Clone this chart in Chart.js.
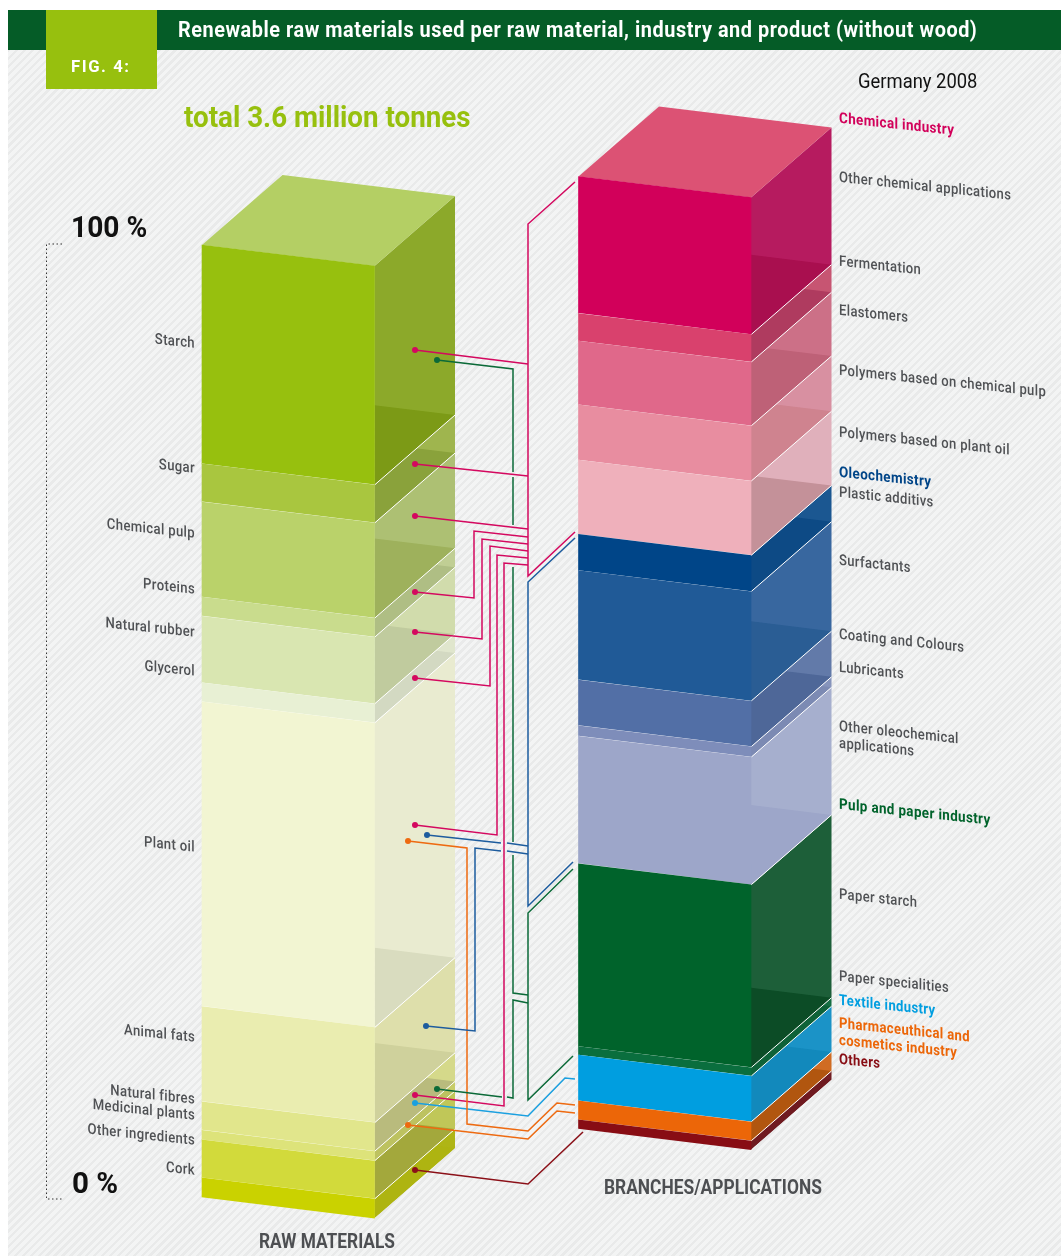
<!DOCTYPE html>
<html>
<head>
<meta charset="utf-8">
<title>Renewable raw materials</title>
<script src="https://cdn.jsdelivr.net/npm/chart.js@4"></script>
<style>
  html, body { margin: 0; padding: 0; background: #fff; }
  #page { position: relative; width: 1061px; height: 1256px; overflow: hidden; }
  #hatch {
    position: absolute; left: 8px; top: 10px; right: 0; bottom: 0;
    background: repeating-linear-gradient(135deg, #e9eaea 0, #e9eaea 2.4px, #f3f4f4 2.4px, #f3f4f4 5.6px);
  }
  #bar { position: absolute; left: 8px; top: 10px; right: 0; height: 40px; background: #055c27; }
  #fig { position: absolute; left: 46px; top: 10px; width: 111px; height: 79px; background: #97c00e; }
  canvas { position: absolute; left: 0; top: 0; }
</style>
</head>
<body>
<div id="page">
  <div id="hatch"></div>
  <div id="bar"></div>
  <div id="fig"></div>
  <canvas id="chart" width="1061" height="1256"></canvas>
</div>
<script>
const categories = ["RAW MATERIALS", "BRANCHES/APPLICATIONS"];

// shares in percent, top of the column first
const rawLabels = ["Starch", "Sugar", "Chemical pulp", "Proteins", "Natural rubber", "Glycerol", "Plant oil",
  "Animal fats", "Natural fibres", "Medicinal plants", "Other ingredients", "Cork"];
const rawValues = [23, 4, 10, 2, 7, 2, 32, 10, 3, 1, 4, 2];

const branchLabels = ["Other chemical applications", "Fermentation", "Elastomers", "Polymers based on chemical pulp",
  "Polymers based on plant oil", "Plastic additivs", "Surfactants", "Coating and Colours", "Lubricants",
  "Other oleochemical|applications", "Paper starch", "Paper specialities", "Textile industry",
  "Pharmaceuthical and|cosmetics industry", "Others"];
const branchValues = [14.4, 2.9, 6.7, 5.8, 7.8, 3.8, 11.5, 4.8, 1.1, 13.4, 19.2, 0.9, 4.8, 2.0, 0.9];

const branchGroups = ["Chemical industry", "Oleochemistry", "Pulp and paper industry"];

// front, side, shaded part of the side
const rawColors = [
  ["#97c00e", "#8aa827", "#7c9a16"], ["#a9c63f", "#9db44b", "#8aa23b"], ["#bad26a", "#acbf71", "#9eb15c"],
  ["#c9dc8d", "#bfcd92", "#afbe84"], ["#d9e6b1", "#d0dbab", "#c0cb9e"], ["#e8f0d4", "#e0e6cc", "#d3d9c2"],
  ["#f2f5d2", "#e9ebcf", "#d9dcbf"], ["#eaedb0", "#dddeaa", "#cfd19c"], ["#e1e68c", "#d4d888", "#b9bb7d"],
  ["#dde37a", "#c6cb66", "#bdc260"], ["#d2da3b", "#bfc655", "#a3a83c"], ["#cad200", "#aeb411", "#aeb411"]
];
const branchColors = [
  ["#d2005a", "#b5175c", "#a90f4f"], ["#d9416d", "#c65270", "#af3b5f"], ["#e0688a", "#cb6e85", "#be6177"],
  ["#e88da0", "#d78e9f", "#cf838f"], ["#efb0bb", "#e0afba", "#c49199"], ["#004588", "#17548f", "#0d4a85"],
  ["#205a97", "#35659d", "#2a5d94"], ["#526fa6", "#6078a8", "#4e6798"], ["#7e8dba", "#8492bb", "#7c8ab3"],
  ["#9da6c9", "#a5aecd", "#9da6c9"], ["#00632b", "#195c36", "#0c4c26"], ["#0a6e3e", "#116c40", "#0e6238"],
  ["#009ee0", "#1791c6", "#1289bc"], ["#ec6608", "#cf6a20", "#b1560f"], ["#880d14", "#6f1a20", "#6f1a20"]
];

const rawLabelY = [344, 469, 534, 590, 633, 672, 848, 1038, 1100, 1116, 1141, 1171];
const branchLabelY = [178, 262, 311, 371, 433, 493, 561, 635, 668, 727, 895, 977, 1001, 1024, 1060];
const branchGroupY = [119, 473, 805];
const groupColors = ["#d2005a", "#004588", "#00632b"];

// leader lines, in page pixels through the leaderX / leaderY scales
const magenta = "#d4085f", green = "#0b6a38", blue = "#1d5c9e", orange = "#ee6a10", cyan = "#1aa0e0", darkRed = "#8b1018";
const leaderRoutes = [
  { color: green, dot: true, path: [[437, 360], [513, 369], [513, 472]] },
  { color: green, path: [[513, 477], [513, 525]] },
  { color: green, path: [[513, 567], [513, 842]] },
  { color: green, path: [[513, 855], [513, 993], [528, 995]] },
  { color: green, path: [[528, 1003], [513, 1000], [513, 1098], [507, 1097]] },
  { color: green, dot: true, path: [[437, 1089], [502, 1097]] },
  { color: green, path: [[573, 869], [528, 913], [528, 1100], [573, 1056]] },
  { color: blue, dot: true, path: [[427, 835], [501, 843]] },
  { color: blue, path: [[507, 843], [528, 846]] },
  { color: blue, dot: true, path: [[426, 1026], [475, 1031], [475, 848], [501, 851]] },
  { color: blue, path: [[507, 851], [528, 854]] },
  { color: blue, path: [[575, 538], [528, 582], [528, 906], [573, 862]] },
  { color: orange, dot: true, path: [[408, 841], [467, 848], [467, 1124], [528, 1131], [557, 1103], [575, 1105]] },
  { color: orange, dot: true, path: [[408, 1125], [528, 1139], [557, 1111], [575, 1113]] },
  { color: cyan, dot: true, path: [[415, 1103], [528, 1116], [565, 1078], [575, 1079]] },
  { color: darkRed, dot: true, path: [[415, 1170], [528, 1184], [583, 1132]] },
  { color: magenta, path: [[575, 182], [528, 224], [528, 576], [575, 532]] },
  { color: magenta, dot: true, path: [[415, 350], [528, 364]] },
  { color: magenta, dot: true, path: [[415, 464], [528, 476]] },
  { color: magenta, dot: true, path: [[415, 516], [528, 529]] },
  { color: magenta, dot: true, path: [[415, 592], [474, 598], [474, 531], [528, 537]] },
  { color: magenta, dot: true, path: [[415, 632], [482, 639], [482, 539], [528, 544]] },
  { color: magenta, dot: true, path: [[415, 678], [490, 686], [490, 546], [528, 551]] },
  { color: magenta, dot: true, path: [[415, 825], [497, 835], [497, 555], [528, 558]] },
  { color: magenta, dot: true, path: [[415, 1095], [504, 1106], [504, 563], [528, 565]] }
];

const slope = 21 / 172;          // fall of the front face per pixel
const depthX = 80.5, depthY = -70; // receding edge of the block
const columnLift = [0, 68.5];    // the right column stands higher on the page
const faceColors = [rawColors, branchColors];
const columnSizes = [rawValues.length, branchValues.length];

function segmentDatasets(labels, values, colors, column) {
  return values.map((v, i) => ({
    label: labels[i],
    data: column === 0 ? [v, null] : [null, v],
    backgroundColor: colors[i][0],
    stack: "s",
    order: 1,
    grouped: false,
    maxBarThickness: 172.5,
    barPercentage: 1,
    categoryPercentage: 1,
    clip: false,
    column: column,
    segment: i
  })).reverse();
}

function leaderDatasets() {
  return leaderRoutes.map((route) => ({
    type: "line",
    data: route.path.map((p) => ({ x: p[0], y: p[1] })),
    xAxisID: "leaderX",
    yAxisID: "leaderY",
    borderColor: route.color,
    backgroundColor: route.color,
    borderWidth: 1.5,
    tension: 0,
    fill: false,
    clip: false,
    order: 0,
    pointRadius: (c) => (route.dot && c.dataIndex === 0 ? 3 : 0),
    pointBorderWidth: 0
  }));
}

function polygon(ctx, pts) {
  ctx.beginPath();
  pts.forEach((p, i) => (i ? ctx.lineTo(p[0], p[1]) : ctx.moveTo(p[0], p[1])));
  ctx.closePath();
}

function drawText(ctx, str, x, y, opts) {
  const condense = opts.condense || 0.86;
  ctx.save();
  ctx.font = opts.font;
  ctx.fillStyle = opts.color;
  ctx.textAlign = opts.align || "left";
  ctx.textBaseline = "middle";
  ctx.letterSpacing = opts.spacing || "0px";
  const s = opts.slope || 0;
  ctx.transform(condense, s * condense, 0, 1, x, y);
  ctx.fillText(str, 0, 0);
  ctx.restore();
}

const blockFaces = {
  id: "blockFaces",
  // side and top faces sit behind the bars and the leader lines
  beforeDatasetsDraw(chart) {
    const ctx = chart.ctx;
    chart.data.datasets.forEach((ds, d) => {
      if (ds.type === "line") return;
      const el = chart.getDatasetMeta(d).data[ds.column];
      const lift = columnLift[ds.column];
      const colors = faceColors[ds.column][ds.segment];
      const right = el.x + el.width / 2;
      const left = el.x - el.width / 2;
      const fall = slope * el.width;
      const yt = el.y + fall - lift;
      const yb = el.base + fall - lift;
      const side = [[right, yt], [right + depthX, yt + depthY], [right + depthX, yb + depthY], [right, yb]];
      ctx.save();
      polygon(ctx, side);
      ctx.fillStyle = colors[1];
      ctx.globalAlpha = 0.985;
      ctx.fill();
      ctx.globalAlpha = 1;
      ctx.clip();
      polygon(ctx, [[right, yb + depthY - slope * depthX], [right + depthX, yb + depthY], [right, yb]]);
      ctx.fillStyle = colors[2];
      ctx.fill();
      ctx.restore();
      if (ds.segment < columnSizes[ds.column] - 1) {
        ctx.save();
        ctx.strokeStyle = "#fff";
        ctx.lineWidth = 1;
        ctx.beginPath();
        ctx.moveTo(right, yb);
        ctx.lineTo(right + depthX, yb + depthY);
        ctx.stroke();
        ctx.restore();
      }
      if (ds.segment === 0) {
        const y0 = el.y - lift;
        polygon(ctx, [[left, y0], [left + depthX, y0 + depthY], [right + depthX, y0 + fall + depthY], [right, y0 + fall]]);
        ctx.fillStyle = ds.column === 0 ? "#b4cf64" : "#dc5274";
        ctx.fill();
      }
    });
  },
  // bars are sheared into the oblique front face while they draw
  beforeDatasetDraw(chart, args) {
    const ds = chart.data.datasets[args.index];
    if (ds.type === "line") return;
    const el = args.meta.data[ds.column];
    const left = el.x - el.width / 2;
    chart.ctx.save();
    chart.ctx.transform(1, slope, 0, 1, 0, -slope * left - columnLift[ds.column]);
  },
  afterDatasetDraw(chart, args) {
    const ds = chart.data.datasets[args.index];
    if (ds.type === "line") return;
    const ctx = chart.ctx;
    const el = args.meta.data[ds.column];
    if (ds.segment < columnSizes[ds.column] - 1) {
      ctx.strokeStyle = "#fff";
      ctx.lineWidth = 1;
      ctx.beginPath();
      ctx.moveTo(el.x - el.width / 2, el.base);
      ctx.lineTo(el.x + el.width / 2, el.base);
      ctx.stroke();
    }
    ctx.restore();
  },
  afterDraw(chart) {
    const ctx = chart.ctx;
    const y = chart.scales.y;
    const gray = "#4f5154";
    const labelFont = "500 15px Roboto";
    const boldFont = "700 15px Roboto";
    const tilt = 0.105;

    drawText(ctx, "Renewable raw materials used per raw material, industry and product (without wood)", 178, 31,
      { font: "700 22px Roboto", color: "#fff", condense: 0.903, spacing: "0.6px" });
    drawText(ctx, "FIG. 4:", 71, 68, { font: "700 17px Roboto", color: "#fff", condense: 0.98, spacing: "1.6px" });
    drawText(ctx, "total 3.6 million tonnes", 184, 119, { font: "700 30px Roboto", color: "#97c00e", condense: 0.925 });
    drawText(ctx, "Germany 2008", 858, 83, { font: "400 20px Roboto", color: "#111", condense: 0.92 });

    // percent bracket, taken from the value scale
    const top = y.getPixelForValue(100), bottom = y.getPixelForValue(0);
    ctx.save();
    ctx.strokeStyle = "#333";
    ctx.setLineDash([1.5, 2.5]);
    ctx.beginPath();
    ctx.moveTo(62, top - 1);
    ctx.lineTo(46.5, top - 1);
    ctx.lineTo(46.5, bottom + 2);
    ctx.lineTo(62, bottom + 2);
    ctx.stroke();
    ctx.restore();
    drawText(ctx, "100 %", 71, top - 15, { font: "700 29px Roboto", color: "#111", condense: 0.97 });
    drawText(ctx, "0 %", 72, bottom - 11, { font: "700 29px Roboto", color: "#111", condense: 1.02 });

    rawLabels.forEach((t, i) => {
      drawText(ctx, t, 195, rawLabelY[i], { font: labelFont, color: gray, align: "right", slope: tilt, spacing: "0.4px", condense: 0.875 });
    });
    branchLabels.forEach((t, i) => {
      // the last three entries are whole branches and keep their colour
      const coloured = i >= branchLabels.length - 3;
      t.split("|").forEach((line, k) => {
        drawText(ctx, line, 839, branchLabelY[i] + k * 17, {
          font: coloured ? boldFont : labelFont, color: coloured ? branchColors[i][0] : gray,
          slope: tilt, spacing: "0.4px", condense: 0.87
        });
      });
    });
    branchGroups.forEach((t, i) => {
      drawText(ctx, t, 839, branchGroupY[i], { font: boldFont, color: groupColors[i], slope: tilt, spacing: "0.4px", condense: 0.895 });
    });

    drawText(ctx, categories[0], 259, 1243, { font: "700 20px Roboto", color: "#4d4f52", condense: 0.865 });
    drawText(ctx, categories[1], 604, 1189, { font: "700 20px Roboto", color: "#4d4f52", condense: 0.868 });
  }
};

new Chart(document.getElementById("chart").getContext("2d"), {
  type: "bar",
  plugins: [blockFaces],
  data: {
    labels: categories,
    datasets: [
      ...segmentDatasets(rawLabels, rawValues, rawColors, 0),
      ...segmentDatasets(branchLabels, branchValues, branchColors, 1),
      ...leaderDatasets()
    ]
  },
  options: {
    responsive: false,
    animation: false,
    devicePixelRatio: 1,
    layout: { padding: { left: 100, right: 208, top: 245, bottom: 59 } },
    plugins: { legend: { display: false }, tooltip: { enabled: false }, title: { display: false } },
    scales: {
      x: { display: false, stacked: true },
      y: { display: false, stacked: true, min: 0, max: 100 },
      leaderX: { type: "linear", axis: "x", display: false, offset: false, min: 100, max: 853 },
      leaderY: { type: "linear", axis: "y", display: false, min: 245, max: 1197, reverse: true }
    }
  }
});
</script>
</body>
</html>
